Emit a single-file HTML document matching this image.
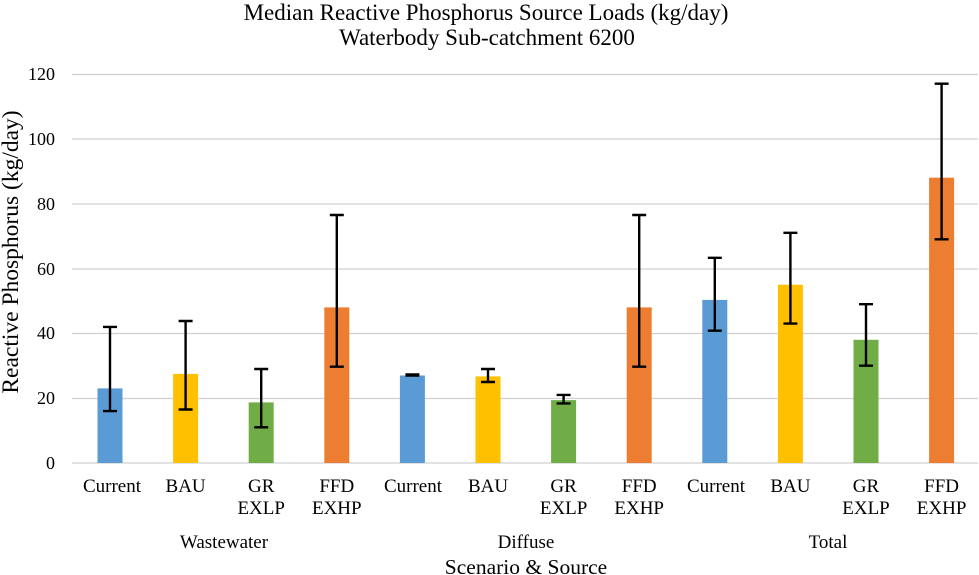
<!DOCTYPE html>
<html><head><meta charset="utf-8"><style>body{margin:0;background:#fff}svg{display:block}text{font-family:"Liberation Serif",serif;fill:#000}</style></head><body>
<svg width="979" height="575" xmlns="http://www.w3.org/2000/svg" font-family="Liberation Serif, serif">
<text x="486" y="20" font-size="23" text-anchor="middle">Median Reactive Phosphorus Source Loads (kg/day)</text>
<text x="487" y="45" font-size="23" text-anchor="middle">Waterbody Sub-catchment 6200</text>
<g stroke="#d0d0d0" stroke-width="1.3">
<line x1="72" x2="978" y1="74.5" y2="74.5"/><line x1="72" x2="978" y1="139" y2="139"/><line x1="72" x2="978" y1="204" y2="204"/><line x1="72" x2="978" y1="269" y2="269"/><line x1="72" x2="978" y1="333.5" y2="333.5"/><line x1="72" x2="978" y1="398.5" y2="398.5"/><line x1="72" x2="978" y1="463" y2="463"/>
</g>
<g font-size="18" text-anchor="end">
<text x="55" y="80">120</text><text x="55" y="145">100</text><text x="55" y="210">80</text><text x="55" y="275">60</text><text x="55" y="339">40</text><text x="55" y="404">20</text><text x="55" y="469">0</text>
</g>
<text transform="translate(18,252) rotate(-90)" font-size="23.5" text-anchor="middle">Reactive Phosphorus (kg/day)</text>
<g>
<rect x="97.5" y="388.4" width="25" height="74.6" fill="#5b9bd5"/>
<rect x="173.1" y="373.9" width="25" height="89.1" fill="#ffc000"/>
<rect x="248.7" y="402.4" width="25" height="60.6" fill="#70ad47"/>
<rect x="324.3" y="307.4" width="25" height="155.6" fill="#ed7d31"/>
<rect x="399.9" y="375.5" width="25" height="87.5" fill="#5b9bd5"/>
<rect x="475.5" y="376.4" width="25" height="86.6" fill="#ffc000"/>
<rect x="551.1" y="400.1" width="25" height="62.9" fill="#70ad47"/>
<rect x="626.7" y="307.4" width="25" height="155.6" fill="#ed7d31"/>
<rect x="702.3" y="299.9" width="25" height="163.1" fill="#5b9bd5"/>
<rect x="777.9" y="284.7" width="25" height="178.3" fill="#ffc000"/>
<rect x="853.5" y="339.8" width="25" height="123.2" fill="#70ad47"/>
<rect x="929.1" y="177.7" width="25" height="285.3" fill="#ed7d31"/>
</g>
<g stroke="#000" stroke-width="2.4" fill="none">
<path d="M110 411.1V326.9M103 411.1h14M103 326.9h14"/>
<path d="M185.6 409.5V321M178.6 409.5h14M178.6 321h14"/>
<path d="M261.2 427.3V369M254.2 427.3h14M254.2 369h14"/>
<path d="M336.8 366.7V215M329.8 366.7h14M329.8 215h14"/>
<path d="M412.4 375.5V374.5M405.4 375.5h14M405.4 374.5h14"/>
<path d="M488 382V369M481 382h14M481 369h14"/>
<path d="M563.6 403.4V394.9M556.6 403.4h14M556.6 394.9h14"/>
<path d="M639.2 366.7V215M632.2 366.7h14M632.2 215h14"/>
<path d="M714.8 330.7V257.8M707.8 330.7h14M707.8 257.8h14"/>
<path d="M790.4 323.6V232.8M783.4 323.6h14M783.4 232.8h14"/>
<path d="M866 365.7V304.2M859 365.7h14M859 304.2h14"/>
<path d="M941.6 239.3V83.7M934.6 239.3h14M934.6 83.7h14"/>
</g>
<g font-size="19" text-anchor="middle">
<text x="112" y="492">Current</text><text x="185.6" y="492">BAU</text><text x="261.2" y="492">GR</text><text x="261.2" y="514">EXLP</text><text x="336.8" y="492">FFD</text><text x="336.8" y="514">EXHP</text>
<text x="413" y="492">Current</text><text x="488" y="492">BAU</text><text x="563.6" y="492">GR</text><text x="563.6" y="514">EXLP</text><text x="639.2" y="492">FFD</text><text x="639.2" y="514">EXHP</text>
<text x="716" y="492">Current</text><text x="790.4" y="492">BAU</text><text x="866" y="492">GR</text><text x="866" y="514">EXLP</text><text x="941.6" y="492">FFD</text><text x="941.6" y="514">EXHP</text>
<text x="224" y="548">Wastewater</text><text x="526" y="548">Diffuse</text><text x="828" y="548">Total</text>
</g>
<text x="526" y="574" font-size="21.5" text-anchor="middle">Scenario &amp; Source</text>
</svg>
</body></html>
